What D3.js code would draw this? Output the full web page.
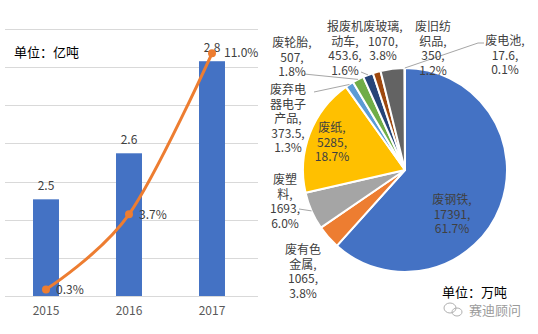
<!DOCTYPE html>
<html>
<head>
<meta charset="utf-8">
<script src="https://cdn.jsdelivr.net/npm/d3@7"></script>
<style>
  html, body { margin: 0; padding: 0; background: #fff; }
  svg { display: block; font-family: "Noto Sans CJK SC", "Noto Sans", sans-serif; }
</style>
</head>
<body>
<svg id="chart" width="538" height="334"></svg>
<script>
// Annual output (亿吨) and year-on-year growth (%)
const years = ["2015", "2016", "2017"];
const output = [2.5, 2.6, 2.8];
const growth = [0.3, 3.7, 11.0];

// Recycled resources by type (万吨), clockwise from 12 o'clock
const wasteNames = ["废钢铁", "废有色金属", "废塑料", "废纸", "废弃电器电子产品",
                    "废轮胎", "报废机动车", "废旧纺织品", "废玻璃", "废电池"];
const wasteAmounts = [17391, 1065, 1693, 5285, 373.5, 507, 453.6, 350, 1070, 17.6];
const wasteColors = ["#4472C4", "#ED7D31", "#A5A5A5", "#FFC000", "#5B9BD5",
                     "#70AD47", "#264478", "#9E480E", "#636363", "#997300"];

// How each name wraps inside its label
const nameLines = {
  "废钢铁": ["废钢铁"], "废有色金属": ["废有色", "金属"], "废塑料": ["废塑", "料"],
  "废纸": ["废纸"], "废弃电器电子产品": ["废弃电", "器电子", "产品"], "废轮胎": ["废轮胎"],
  "报废机动车": ["报废机", "动车"], "废旧纺织品": ["废旧纺", "织品"], "废玻璃": ["废玻璃"],
  "废电池": ["废电池"]
};

const svg = d3.select("#chart");
const textColor = "#404040";

// ---------- left: bars + growth line ----------
const plotBottom = 296, plotTop = 29;
const yMin = 2.29, yMax = 2.87;
const x = d3.scaleBand().domain(years).range([4.5, 253.5])
  .paddingInner(0.687).paddingOuter(0.3435);
const y = d3.scaleLinear().domain([yMin, yMax]).range([plotBottom, plotTop]);
const y2 = d3.scaleLinear().domain([0, 12.1]).range([plotBottom, plotTop]);

const gridVals = d3.range(8).map(i => yMin + i * (yMax - yMin) / 7);
svg.append("g").selectAll("line").data(gridVals).join("line")
  .attr("x1", 5).attr("x2", 258)
  .attr("y1", d => Math.round(y(d)) + 0.5).attr("y2", d => Math.round(y(d)) + 0.5)
  .attr("stroke", "#d9d9d9").attr("stroke-width", 1);

svg.append("g").selectAll("rect").data(years).join("rect")
  .attr("x", d => x(d)).attr("width", x.bandwidth())
  .attr("y", (d, i) => y(output[i]))
  .attr("height", (d, i) => plotBottom - y(output[i]))
  .attr("fill", "#4472C4");

svg.append("g").selectAll("text").data(years).join("text")
  .attr("x", d => x(d) + x.bandwidth() / 2)
  .attr("y", (d, i) => y(output[i]) - 9)
  .attr("text-anchor", "middle").attr("font-size", 12).attr("fill", textColor)
  .text((d, i) => output[i].toFixed(1));

const cx = d => x(d) + x.bandwidth() / 2;
const line = d3.line().x(d => cx(d[0])).y(d => y2(d[1])).curve(d3.curveCatmullRom.alpha(0));
const pts = years.map((d, i) => [d, growth[i]]);
svg.append("path").datum(pts).attr("d", line)
  .attr("fill", "none").attr("stroke", "#ED7D31").attr("stroke-width", 3)
  .attr("stroke-linecap", "round");
svg.append("g").selectAll("circle").data(pts).join("circle")
  .attr("cx", d => cx(d[0])).attr("cy", d => y2(d[1])).attr("r", 4)
  .attr("fill", "#ED7D31");
svg.append("g").selectAll("text").data(pts).join("text")
  .attr("x", (d, i) => cx(d[0]) + (i === 2 ? 12 : 10))
  .attr("y", d => y2(d[1])).attr("dy", "0.35em")
  .attr("font-size", 12).attr("fill", textColor)
  .text(d => d[1].toFixed(1) + "%");

svg.append("g").selectAll("text").data(years).join("text")
  .attr("x", d => cx(d)).attr("y", 311).attr("dy", "0.35em")
  .attr("text-anchor", "middle").attr("font-size", 12).attr("fill", "#595959")
  .text(d => d);

svg.append("text").attr("x", 14).attr("y", 52).attr("dy", "0.35em")
  .attr("font-size", 13).attr("fill", "#000").text("单位：亿吨");

// ---------- right: pie ----------
const pcx = 405, pcy = 170, R = 102;
const total = d3.sum(wasteAmounts);
const pctFmt = d3.format(".1%");
const pie = d3.pie().sort(null).value(d => d.amount)
  .startAngle(0).endAngle(2 * Math.PI);
const slices = pie(wasteNames.map((n, i) => ({ name: n, amount: wasteAmounts[i], color: wasteColors[i] })));
const arc = d3.arc().innerRadius(0).outerRadius(R);
const rim = d3.arc().innerRadius(R).outerRadius(R);

const pg = svg.append("g").attr("transform", `translate(${pcx},${pcy})`);
pg.selectAll("path").data(slices).join("path")
  .attr("d", arc).attr("fill", d => d.data.color)
  .attr("stroke", "#fff").attr("stroke-width", 2).attr("stroke-linejoin", "round");

// label anchors: centre x and first-line centre y, relative to the pie centre
const labelAt = {
  "废钢铁": [47, 30], "废有色金属": [-102, 80], "废塑料": [-120, 10], "废纸": [-73, -42],
  "废弃电器电子产品": [-117, -80], "废轮胎": [-113, -127], "报废机动车": [-60, -143],
  "废旧纺织品": [28, -143], "废玻璃": [-22, -143], "废电池": [100, -129]
};
// leader line start points, relative to the pie centre
const leaderFrom = {
  "废塑料": [[-106, 39]], "废弃电器电子产品": [[-91, -78]], "废轮胎": [[-101, -96]],
  "报废机动车": [[-44, -98]], "废电池": [[79, -127], [73, -127]]
};

const lineGap = 14.5;
slices.forEach(s => {
  const name = s.data.name;
  const from = leaderFrom[name];
  if (from) {
    const end = rim.centroid(s);
    pg.append("polyline")
      .attr("points", from.concat([end]).map(p => p.join(",")).join(" "))
      .attr("fill", "none").attr("stroke", "#a6a6a6").attr("stroke-width", 1);
  }
});
slices.forEach(s => {
  const name = s.data.name;
  const lines = nameLines[name].slice();
  lines[lines.length - 1] += ",";
  lines.push(s.data.amount + ",");
  lines.push(pctFmt(s.data.amount / total));
  const [lx, ly] = labelAt[name];
  const t = pg.append("text").attr("text-anchor", "middle")
    .attr("font-size", 12).attr("fill", textColor);
  lines.forEach((l, k) => {
    t.append("tspan").attr("x", lx).attr("y", ly + k * lineGap).attr("dy", "0.35em").text(l);
  });
});

svg.append("text").attr("x", 442).attr("y", 292).attr("dy", "0.35em")
  .attr("font-size", 13).attr("fill", "#000").text("单位：万吨");

// account mark
const mark = svg.append("g").attr("fill", "none").attr("stroke", "#b0b0b0").attr("stroke-width", 1);
mark.append("ellipse").attr("cx", 450).attr("cy", 308).attr("rx", 6).attr("ry", 5);
mark.append("ellipse").attr("cx", 457).attr("cy", 312).attr("rx", 5).attr("ry", 4);
svg.append("text").attr("x", 469).attr("y", 310).attr("dy", "0.35em")
  .attr("font-size", 13).attr("fill", "#9a9a9a").text("赛迪顾问");
</script>
</body>
</html>
